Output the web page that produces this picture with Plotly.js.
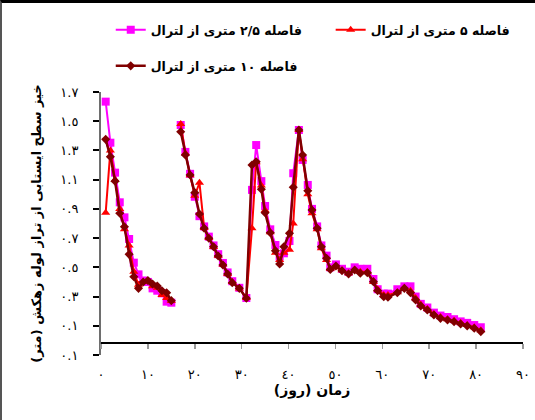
<!DOCTYPE html>
<html>
<head>
<meta charset="utf-8">
<script src="https://cdn.plot.ly/plotly-3.0.1.min.js"></script>
<style>
  html, body { margin: 0; padding: 0; background: #fff; }
  #wrap { position: relative; width: 535px; height: 420px; }
  #chart { position: absolute; left: 0; top: 0; width: 535px; height: 420px; }
  #frame { position: absolute; left: 0; top: 0; width: 535px; height: 420px; box-sizing: border-box;
           border-top: 3px solid #000; border-left: 2px solid #555; pointer-events: none; }
</style>
</head>
<body>
<div id="wrap"><div id="chart"></div><div id="frame"></div></div>
<script>
// Days (shared x positions); null value at 16 marks the gap in the record
const days = [1,2,3,4,5,6,7,8,9,10,11,12,13,14,15,16,
  17,18,19,20,21,22,23,24,25,26,27,28,29.5,31,
  32.2,33.1,34.2,35,36.1,37.2,38.1,39,40.2,41,42.2,43,44.1,45,46.1,47,48.1,48.9,
  50.1,51.4,52.8,54.1,55.3,56.8,58.1,59,60.3,61.2,63.2,64.7,66,67.1,68.2,69.6,
  71,72.4,73.9,75.3,76.7,78.1,79.6,81];

// 2.5 m from lateral (magenta)
const d25 = [1.634,1.353,1.148,0.945,0.842,0.694,0.532,0.452,0.41,0.40,0.356,0.34,0.322,0.265,0.258,null,
  1.474,1.29,1.14,0.983,0.85,0.78,0.71,0.65,0.59,0.53,0.465,0.405,0.36,0.29,
  1.03,1.337,1.09,0.92,0.76,0.653,0.573,0.596,0.68,1.144,1.44,1.235,1.064,0.90,0.78,0.65,0.58,0.50,
  0.52,0.49,0.47,0.50,0.49,0.49,0.42,0.35,0.32,0.32,0.35,0.37,0.37,0.30,0.25,0.225,
  0.19,0.17,0.16,0.145,0.13,0.12,0.105,0.09];

// 5 m from lateral (red)
const d5 = [0.874,1.30,1.10,0.90,0.76,0.65,0.47,0.38,0.40,0.40,0.37,0.36,0.31,0.29,0.27,null,
  1.481,1.28,1.13,0.99,1.079,0.77,0.70,0.64,0.58,0.52,0.455,0.40,0.355,0.29,
  0.767,1.22,1.06,0.89,0.74,0.60,0.55,0.60,0.62,0.80,1.44,1.24,1.00,0.87,0.76,0.63,0.55,0.49,
  0.50,0.48,0.46,0.48,0.47,0.47,0.40,0.35,0.31,0.31,0.33,0.36,0.34,0.29,0.245,0.215,
  0.18,0.16,0.145,0.135,0.12,0.105,0.09,0.07];

// 10 m from lateral (dark red)
const d10 = [1.376,1.257,1.09,0.87,0.778,0.589,0.436,0.356,0.40,0.41,0.386,0.372,0.34,0.326,0.272,null,
  1.428,1.269,1.132,1.011,0.865,0.767,0.699,0.641,0.578,0.516,0.454,0.395,0.356,0.288,
  1.20,1.223,1.034,0.874,0.737,0.614,0.523,0.641,0.733,1.048,1.44,1.269,1.024,0.892,0.767,0.641,0.562,0.486,
  0.509,0.477,0.454,0.482,0.459,0.463,0.402,0.34,0.299,0.295,0.326,0.356,0.326,0.276,0.235,0.208,
  0.174,0.151,0.14,0.128,0.112,0.099,0.083,0.06];

const seriesNames = ['فاصله ۲/۵ متری از لترال', 'فاصله ۵ متری از لترال', 'فاصله ۱۰ متری از لترال'];
const xTickVals = [0,10,20,30,40,50,60,70,80,90];
const xTickText = ['٠','١٠','٢٠','٣٠','٤٠','٥٠','٦٠','٧٠','٨٠','٩٠'];
const yTickVals = [-0.1,0.1,0.3,0.5,0.7,0.9,1.1,1.3,1.5,1.7];
const yTickText = ['٠.١','٠.١','٠.٣','٠.٥','٠.٧','٠.٩','١.١','١.٣','١.٥','١.٧'];
const xTitle = 'زمان (روز)';
const yTitle = 'خیز سطح ایستابی از تراز لوله زهکش (متر)';

const FONT = 'DejaVu Sans, Noto Sans, sans-serif';

const traces = [
  { x: days, y: d25, name: seriesNames[0], type: 'scatter', mode: 'lines+markers',
    line: { color: '#ff00ff', width: 2 }, marker: { symbol: 'square', size: 8, color: '#ff00ff' },
    legend: 'legend' },
  { x: days, y: d5, name: seriesNames[1], type: 'scatter', mode: 'lines+markers',
    line: { color: '#ff0000', width: 2 }, marker: { symbol: 'triangle-up', size: 8, color: '#ff0000' },
    legend: 'legend2' },
  { x: days, y: d10, name: seriesNames[2], type: 'scatter', mode: 'lines+markers',
    line: { color: '#800000', width: 2.5 }, marker: { symbol: 'diamond', size: 7, color: '#800000' },
    legend: 'legend3' }
];

const legendCommon = {
  orientation: 'h', xref: 'container', yref: 'container', xanchor: 'left', yanchor: 'top',
  font: { family: FONT, size: 12.5, color: '#000', weight: 'bold' },
  bgcolor: 'rgba(0,0,0,0)', itemwidth: 30, tracegroupgap: 0
};

const layout = {
  width: 535, height: 420,
  margin: { l: 101, r: 12, t: 92, b: 65 },
  paper_bgcolor: '#fff', plot_bgcolor: '#fff',
  font: { family: FONT, size: 12, color: '#000' },
  showlegend: true,
  legend: Object.assign({}, legendCommon, { x: 0.207, y: 0.964 }),
  legend2: Object.assign({}, legendCommon, { x: 0.962, xanchor: 'right', y: 0.964 }),
  legend3: Object.assign({}, legendCommon, { x: 0.207, y: 0.878 }),
  xaxis: {
    range: [0, 90], anchor: 'free', position: 0.048,
    showline: true, linecolor: '#000', linewidth: 1.5,
    ticks: 'outside', ticklen: 5, tickcolor: '#999', tickwidth: 1.5,
    tickvals: xTickVals, ticktext: xTickText, ticklabelstandoff: 15,
    tickfont: { family: FONT, size: 13, color: '#000' },
    showgrid: false, zeroline: false,
    title: { text: xTitle, font: { family: FONT, size: 14, color: '#000', weight: 'bold' }, standoff: 0 }
  },
  yaxis: {
    range: [-0.1, 1.7],
    showline: true, linecolor: '#6e6e6e', linewidth: 2,
    ticks: 'outside', ticklen: 6, tickcolor: '#000', tickwidth: 2,
    tickvals: yTickVals, ticktext: yTickText, ticklabelstandoff: 12,
    tickfont: { family: FONT, size: 13, color: '#000' },
    showgrid: false, zeroline: false,
    title: { text: yTitle, font: { family: FONT, size: 13, color: '#000', weight: 'bold' }, standoff: 16 }
  }
};

Plotly.newPlot('chart', traces, layout, { staticPlot: true, displayModeBar: false });
</script>
</body>
</html>
